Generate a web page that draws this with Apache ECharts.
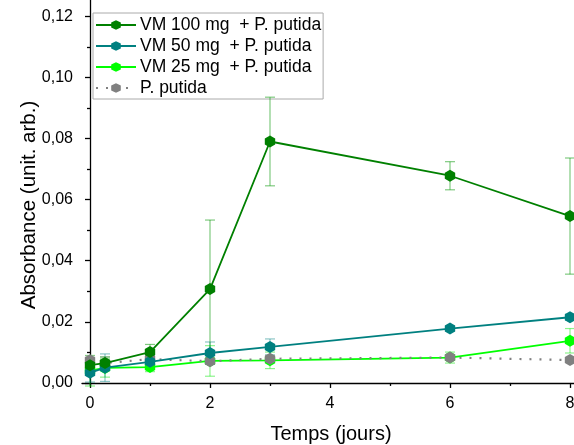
<!DOCTYPE html>
<html>
<head>
<meta charset="utf-8">
<script src="https://cdn.jsdelivr.net/npm/echarts@6/dist/echarts.min.js"></script>
<style>html,body{margin:0;padding:0;background:#fff;}#c{width:574px;height:445px;}</style>
</head>
<body>
<div id="c"></div>
<script>
const days = [0, 0.25, 1, 2, 3, 6, 8];
const vm100 = [0.0058, 0.0065, 0.0101, 0.0307, 0.0790, 0.0678, 0.0546];
const vm100Err = [0.002, 0.002, 0.0025, 0.0226, 0.0145, 0.0046, 0.019];
const vm50 = [0.0033, 0.0050, 0.0069, 0.0098, 0.0118, 0.0178, 0.0215];
const vm50Err = [0.003, 0.0045, 0.002, 0.0036, 0.0026, 0.0008, 0.001];
const vm25 = [0.0040, 0.0049, 0.0052, 0.0072, 0.0074, 0.0083, 0.0138];
const vm25Err = [0.005, 0.003, 0.0015, 0.005, 0.0027, 0.0018, 0.004];
const putida = [0.0074, 0.0065, 0.0078, 0.0071, 0.0079, 0.0083, 0.0075];
const putidaErr = [0.0015, 0.002, 0.001, 0.001, 0.001, 0.0005, 0.0005];

const xMajor = [0, 2, 4, 6, 8];
const xMinor = [1, 3, 5, 7];
const yMajor = [0, 0.02, 0.04, 0.06, 0.08, 0.10, 0.12];
const yMinor = [0.01, 0.03, 0.05, 0.07, 0.09, 0.11];

const names = ['VM 100 mg  + P. putida', 'VM 50 mg  + P. putida', 'VM 25 mg  + P. putida', 'P. putida'];

const hex = 'path://M0,-1 L0.866,-0.5 L0.866,0.5 L0,1 L-0.866,0.5 L-0.866,-0.5 Z';
const font = 'Liberation Sans, Arial, sans-serif';

function pts(ys){ return days.map((d,i)=>[d, ys[i]]); }
function errData(ys, es){ return days.map((d,i)=>[d, ys[i]-es[i], ys[i]+es[i]]); }

function errSeries(ys, es, color, z){
  return {
    type: 'custom', name: 'err' + z, z: z, silent: true,
    data: errData(ys, es),
    encode: {x: 0, y: [1, 2]},
    renderItem: function(params, api){
      const x = api.value(0);
      const lo = api.coord([x, api.value(1)]);
      const hi = api.coord([x, api.value(2)]);
      const w = 5;
      const style = {stroke: color, lineWidth: 1.2, fill: null};
      return {type: 'group', children: [
        {type: 'line', shape: {x1: lo[0], y1: lo[1], x2: hi[0], y2: hi[1]}, style: style},
        {type: 'line', shape: {x1: lo[0]-w, y1: lo[1], x2: lo[0]+w, y2: lo[1]}, style: style},
        {type: 'line', shape: {x1: hi[0]-w, y1: hi[1], x2: hi[0]+w, y2: hi[1]}, style: style}
      ]};
    }
  };
}

function lineSeries(name, ys, color, z, dotted){
  return {
    type: 'line', name: name, z: z, data: pts(ys),
    symbol: hex, symbolSize: 12, symbolKeepAspect: true,
    itemStyle: {color: color},
    lineStyle: dotted ? {color: color, width: 2.2, type: [2, 8]} : {color: color, width: 1.8},
    emphasis: {disabled: true}
  };
}

const axisLineStyle = {lineStyle: {color: '#000', width: 1.3}};

const chart = echarts.init(document.getElementById('c'), null, {renderer: 'canvas'});
chart.setOption({
  animation: false,
  backgroundColor: '#fff',
  grid: {left: 82, right: 0, top: 0, bottom: 59, containLabel: false, outerBoundsMode: 'none'},
  legend: {
    data: names, orient: 'vertical', left: 93, top: 13,
    itemWidth: 40, itemHeight: 12, itemGap: 3,
    padding: [3, 2, 2, 2],
    backgroundColor: '#fff', borderColor: '#aaa', borderWidth: 1,
    textStyle: {fontFamily: font, fontSize: 17.5, lineHeight: 18, color: '#000', padding: [0,0,0,-1]}
  },
  xAxis: [{
    type: 'value', min: -0.1333, max: 8.0667,
    axisLine: axisLineStyle, splitLine: {show: false},
    axisTick: {show: true, length: 5, lineStyle: {color: '#000', width: 1.3}, customValues: xMajor},
    axisLabel: {customValues: xMajor, fontFamily: font, fontSize: 16, color: '#000', margin: 10},
    name: 'Temps (jours)', nameLocation: 'middle', nameGap: 38,
    nameTextStyle: {fontFamily: font, fontSize: 20, color: '#000', padding: [0, 0, 0, 6]}
  }, {
    type: 'value', min: -0.1333, max: 8.0667, position: 'bottom',
    axisLine: {show: false}, splitLine: {show: false},
    axisTick: {show: true, length: 3, lineStyle: {color: '#000', width: 1.3}, customValues: xMinor},
    axisLabel: {show: false}
  }],
  yAxis: [{
    type: 'value', min: -0.001, max: 0.1253,
    axisLine: {show: true, lineStyle: {color: '#000', width: 1.3}}, splitLine: {show: false},
    axisTick: {show: true, length: 5, lineStyle: {color: '#000', width: 1.3}, customValues: yMajor},
    axisLabel: {customValues: yMajor, fontFamily: font, fontSize: 16, color: '#000', margin: 9,
      formatter: v => v.toFixed(2).replace('.', ',')},
    name: 'Absorbance (unit. arb.)', nameLocation: 'middle', nameGap: 42, nameMoveOverlap: false,
    nameTextStyle: {fontFamily: font, fontSize: 20.5, color: '#000', padding: [0, 24, 0, 0]}
  }, {
    type: 'value', min: -0.001, max: 0.1253, position: 'left',
    axisLine: {show: false}, splitLine: {show: false},
    axisTick: {show: true, length: 3, lineStyle: {color: '#000', width: 1.3}, customValues: yMinor},
    axisLabel: {show: false}
  }],
  series: [
    errSeries(vm25, vm25Err, 'rgba(0,230,0,0.45)', 1),
    errSeries(putida, putidaErr, 'rgba(128,128,128,0.45)', 2),
    errSeries(vm50, vm50Err, 'rgba(0,128,128,0.45)', 3),
    errSeries(vm100, vm100Err, 'rgba(0,150,0,0.5)', 4),
    lineSeries(names[2], vm25, '#00ff00', 5, false),
    lineSeries(names[3], putida, '#808080', 6, true),
    lineSeries(names[1], vm50, '#008080', 7, false),
    lineSeries(names[0], vm100, '#008000', 8, false)
  ]
});
</script>
</body>
</html>
